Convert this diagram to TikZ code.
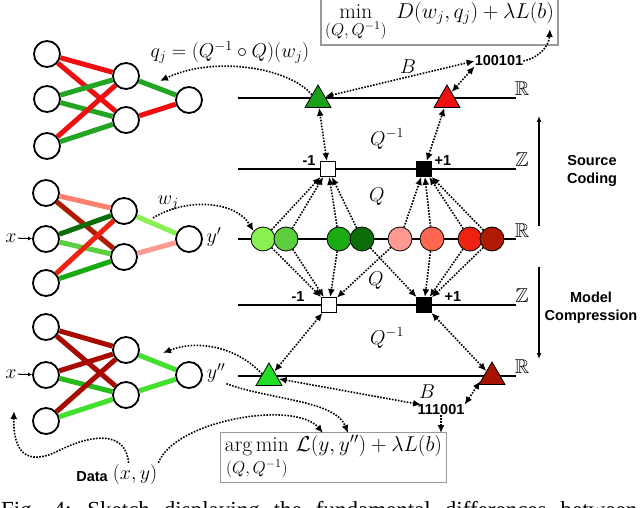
\RequirePackage{fix-cm}
\documentclass[tikz,border=0pt]{standalone}
\usepackage{fontspec}
\usepackage{amsmath,amssymb}
\usetikzlibrary{arrows.meta,shapes.geometric}
\newfontfamily\hvb{Liberation Sans}
\newfontfamily\capfont{Liberation Serif}
\definecolor{tRed}{HTML}{EE1010}
\definecolor{tGreen}{HTML}{22A522}
\definecolor{cA}{HTML}{88F050}
\definecolor{cB}{HTML}{5CCE40}
\definecolor{cC}{HTML}{1AAA12}
\definecolor{cD}{HTML}{0B6E0B}
\definecolor{cE}{HTML}{FF9A92}
\definecolor{cF}{HTML}{FF6650}
\definecolor{cG}{HTML}{EE2212}
\definecolor{cH}{HTML}{B01A00}
\definecolor{mSal}{HTML}{FF8070}
\definecolor{dRed}{HTML}{A80A00}
\definecolor{bGr}{HTML}{44E030}
\definecolor{triGa}{HTML}{1AA01A}
\definecolor{triRa}{HTML}{EE0F0F}
\definecolor{triGb}{HTML}{22DD22}
\definecolor{triRb}{HTML}{A81200}
\newcommand{\subsz}[1]{\mbox{\fontsize{17}{17}\selectfont$#1$}}
\tikzset{
 nn/.style={circle, draw=black, line width=1.8pt, fill=white, minimum size=26pt, inner sep=0pt},
 wedge/.style={line width=5pt},
 dotc/.style={circle, draw=black, line width=0.8pt, minimum size=24pt, inner sep=0pt},
 tri/.style={regular polygon, regular polygon sides=3, draw=black, line width=0.8pt, minimum size=30pt, inner sep=0pt},
 sqr/.style={rectangle, draw=black, line width=0.8pt, minimum size=15pt, inner sep=0pt},
 axisline/.style={line width=2pt},
 da/.style={line width=1.6pt, dash pattern=on 1.6pt off 1.4pt, -{Latex[length=8pt,width=7pt]}},
 dda/.style={line width=1.6pt, dash pattern=on 1.6pt off 1.4pt, {Latex[length=8pt,width=7pt]}-{Latex[length=8pt,width=7pt]}},
 ml/.style={font=\fontsize{20}{24}\selectfont, inner sep=1pt},
 sl/.style={font=\fontsize{14.5}{18}\selectfont\hvb\bfseries, inner sep=0pt, align=center},
 fbx/.style={draw=black!40, line width=1.2pt, inner xsep=4pt, inner ysep=3pt, font=\fontsize{21.5}{25}\selectfont}
}
\begin{document}
\begin{tikzpicture}[x=1pt,y=-1pt]
\path[use as bounding box] (0,0) rectangle (640,508);
\clip (0,0) rectangle (640,508);

% ---------- networks ----------
\node[nn] (tI1) at (47,54) {};
\node[nn] (tI2) at (47,99) {};
\node[nn] (tI3) at (47,146) {};
\node[nn] (tH1) at (126,76) {};
\node[nn] (tH2) at (126,120) {};
\node[nn] (tO) at (189,100) {};
\draw[wedge,tRed] (tI1) -- (tH1);
\draw[wedge,tRed] (tI1) -- (tH2);
\draw[wedge,tGreen] (tI2) -- (tH1);
\draw[wedge,tGreen] (tI2) -- (tH2);
\draw[wedge,tRed] (tI3) -- (tH1);
\draw[wedge,tGreen] (tI3) -- (tH2);
\draw[wedge,tGreen] (tH1) -- (tO);
\draw[wedge,tRed] (tH2) -- (tO);

\node[nn] (mI1) at (46,193) {};
\node[nn] (mI2) at (46,239) {};
\node[nn] (mI3) at (46,283) {};
\node[nn] (mH1) at (124,211) {};
\node[nn] (mH2) at (124,257) {};
\node[nn] (mO) at (189,239) {};
\draw[wedge,mSal] (mI1) -- (mH1);
\draw[wedge,cH] (mI1) -- (mH2);
\draw[wedge,cD] (mI2) -- (mH1);
\draw[wedge,cB] (mI2) -- (mH2);
\draw[wedge,cG] (mI3) -- (mH1);
\draw[wedge,cC] (mI3) -- (mH2);
\draw[wedge,cA] (mH1) -- (mO);
\draw[wedge,cE] (mH2) -- (mO);

\node[nn] (bI1) at (46,327) {};
\node[nn] (bI2) at (46,375) {};
\node[nn] (bI3) at (46,421) {};
\node[nn] (bH1) at (126,350) {};
\node[nn] (bH2) at (126,395) {};
\node[nn] (bO) at (189,375) {};
\draw[wedge,dRed] (bI1) -- (bH1);
\draw[wedge,dRed] (bI1) -- (bH2);
\draw[wedge,dRed] (bI2) -- (bH1);
\draw[wedge,cC!70!bGr] (bI2) -- (bH2);
\draw[wedge,dRed] (bI3) -- (bH1);
\draw[wedge,bGr] (bI3) -- (bH2);
\draw[wedge,bGr] (bH1) -- (bO);
\draw[wedge,bGr] (bH2) -- (bO);

\node[ml] (xm) at (11,238) {$x$};
\node[ml] (xb) at (11,374) {$x$};
\draw[line width=1pt,-{Latex[length=4pt,width=4pt]}] (xm) -- (mI2);
\draw[line width=1pt,-{Latex[length=4pt,width=4pt]}] (xb) -- (bI2);
\node[ml] (yp) at (214,237) {$y'$};
\node[ml] (ypp) at (216,373) {$y''$};
\node[ml] (wj) at (168,203) {$w_j$};
\node[ml] (qj) at (230,52) {$q_j=(Q^{-1}\circ Q)(w_j)$};

% ---------- axes ----------
\draw[axisline] (238,98) -- (516,98);
\draw[axisline] (238,169) -- (516,169);
\draw[axisline] (238,239) -- (516,239);
\draw[axisline] (238,305) -- (516,305);
\draw[axisline] (238,376) -- (516,376);
\node[ml] (R1) at (522,89) {$\mathbb{R}$};
\node[ml] (Z1) at (522,160) {$\mathbb{Z}$};
\node[ml] (R2) at (522,231) {$\mathbb{R}$};
\node[ml] (Z2) at (522,296) {$\mathbb{Z}$};
\node[ml] (R3) at (522,367) {$\mathbb{R}$};

% ---------- points ----------
\node[tri, fill=triGa] (tgT) at (318,100) {};
\node[tri, fill=triRa] (trT) at (447,100) {};
\node[tri, fill=triGb] (bgT) at (269,378) {};
\node[tri, fill=triRb] (brT) at (492,377) {};
\node[sqr, fill=white] (sqT1) at (328,169) {};
\node[sqr, fill=black] (sqT2) at (424,169) {};
\node[sqr, fill=white] (sqB1) at (329,305) {};
\node[sqr, fill=black] (sqB2) at (424,305) {};
\node[dotc, fill=cA] (c1) at (263,239) {};
\node[dotc, fill=cB] (c2) at (286,239) {};
\node[dotc, fill=cC] (c3) at (339,239) {};
\node[dotc, fill=cD] (c4) at (362,239) {};
\node[dotc, fill=cE] (c5) at (400,239) {};
\node[dotc, fill=cF] (c6) at (432,239) {};
\node[dotc, fill=cG] (c7) at (470,239) {};
\node[dotc, fill=cH] (c8) at (492,239) {};

\node[sl] (m1t) at (309,161) {-1};
\node[sl] (p1t) at (443,161) {+1};
\node[sl] (m1b) at (298,297) {-1};
\node[sl] (p1b) at (453,297) {+1};

\node[ml] (Qi1) at (387,139) {$Q^{-1}$};
\node[ml] (Q1) at (377,197) {$Q$};
\node[ml] (Q2) at (376,281) {$Q$};
\node[ml] (Qi2) at (387,338) {$Q^{-1}$};
\node[ml] (B1) at (408,67) {$B$};
\node[ml] (B2) at (427,392) {$B$};
\node[sl] (b1) at (499,61) {100101};
\node[sl] (b2) at (441,410) {111001};

% ---------- boxes ----------
\node[fbx] (boxT) at (439.5,22) {$\min\limits_{\subsz{(Q,Q^{-1})}}\; D(w_j,q_j)+\lambda L(b)$};
\node[fbx] (boxB) at (333.5,457.5) {$\mathop{\mathrm{arg\,min}}\limits_{\subsz{(Q,Q^{-1})}}\, \mathcal{L}(y,y'')+\lambda L(b)$};

% ---------- right annotations ----------
\coordinate (upS) at (539,226);
\coordinate (upE) at (539,116);
\coordinate (dnS) at (539,267);
\coordinate (dnE) at (539,359);
\draw[line width=1.2pt,-{Latex[length=6pt,width=5pt]}] (upS) -- (upE);
\draw[line width=1.2pt,-{Latex[length=6pt,width=5pt]}] (dnS) -- (dnE);
\node[sl] (srcc) at (592,171) {Source\\Coding};
\node[sl] (mdlc) at (591,308) {Model\\Compression};

% ---------- data ----------
\node[sl] (data) at (92,477) {Data};
\node[ml] (dxy) at (135,474) {$(x,y)$};

% ---------- dotted connectors ----------
\coordinate (qtip) at (160,81);
\coordinate (wst) at (153,218);
\coordinate (ytip) at (163,353);
\coordinate (bTip) at (550,29);
\coordinate (bA) at (348,433);
\coordinate (bB) at (323,433);
\coordinate (bC) at (441,433);
\coordinate (xtip) at (14,411);

\draw[da] (tgT.140) .. controls (290,68) and (215,55) .. (qtip);
\draw[dda] (tgT.25) -- (b1.west);
\draw[dda] (trT.60) -- (b1.south west);
\draw[da] (b1.east) .. controls (541,57) and (549,45) .. (bTip);
\draw[dda] (sqT1) -- (tgT);
\draw[dda] (sqT2) -- (trT);
\foreach \i in {1,2,3,4} {\draw[da] (c\i) -- (sqT1);}
\foreach \i in {5,6,7,8} {\draw[da] (c\i) -- (sqT2);}
\foreach \i in {1,2,3,5} {\draw[da] (c\i) -- (sqB1);}
\foreach \i in {4,6,7,8} {\draw[da] (c\i) -- (sqB2);}
\draw[dda] (sqB1) -- (bgT);
\draw[dda] (sqB2) -- (brT);
\draw[dda] (bgT.-5) -- (b2.165);
\draw[dda] (brT.200) -- (b2.north east);
\draw[da] (b2) -- (bC);
\draw[da] (wst) .. controls (185,198) and (235,200) .. (c1.140);
\draw[da] (bgT.150) .. controls (235,345) and (195,340) .. (ytip);
\draw[da] (ypp.south east) .. controls (270,400) and (335,400) .. (bA);
\draw[da] (dxy.north east) .. controls (175,420) and (295,400) .. (bB);
\draw[da] (dxy.120) .. controls (126,432) and (95,433) .. (60,450) .. controls (25,468) and (13,450) .. (xtip);

% ---------- caption (cut by the frame) ----------
\node[anchor=base west, inner sep=0pt, font=\capfont\fontsize{23}{26}\selectfont] (cap) at (1,517) {\spaceskip=14pt\relax Fig. 4: Sketch displaying the fundamental differences between};
\end{tikzpicture}
\end{document}
